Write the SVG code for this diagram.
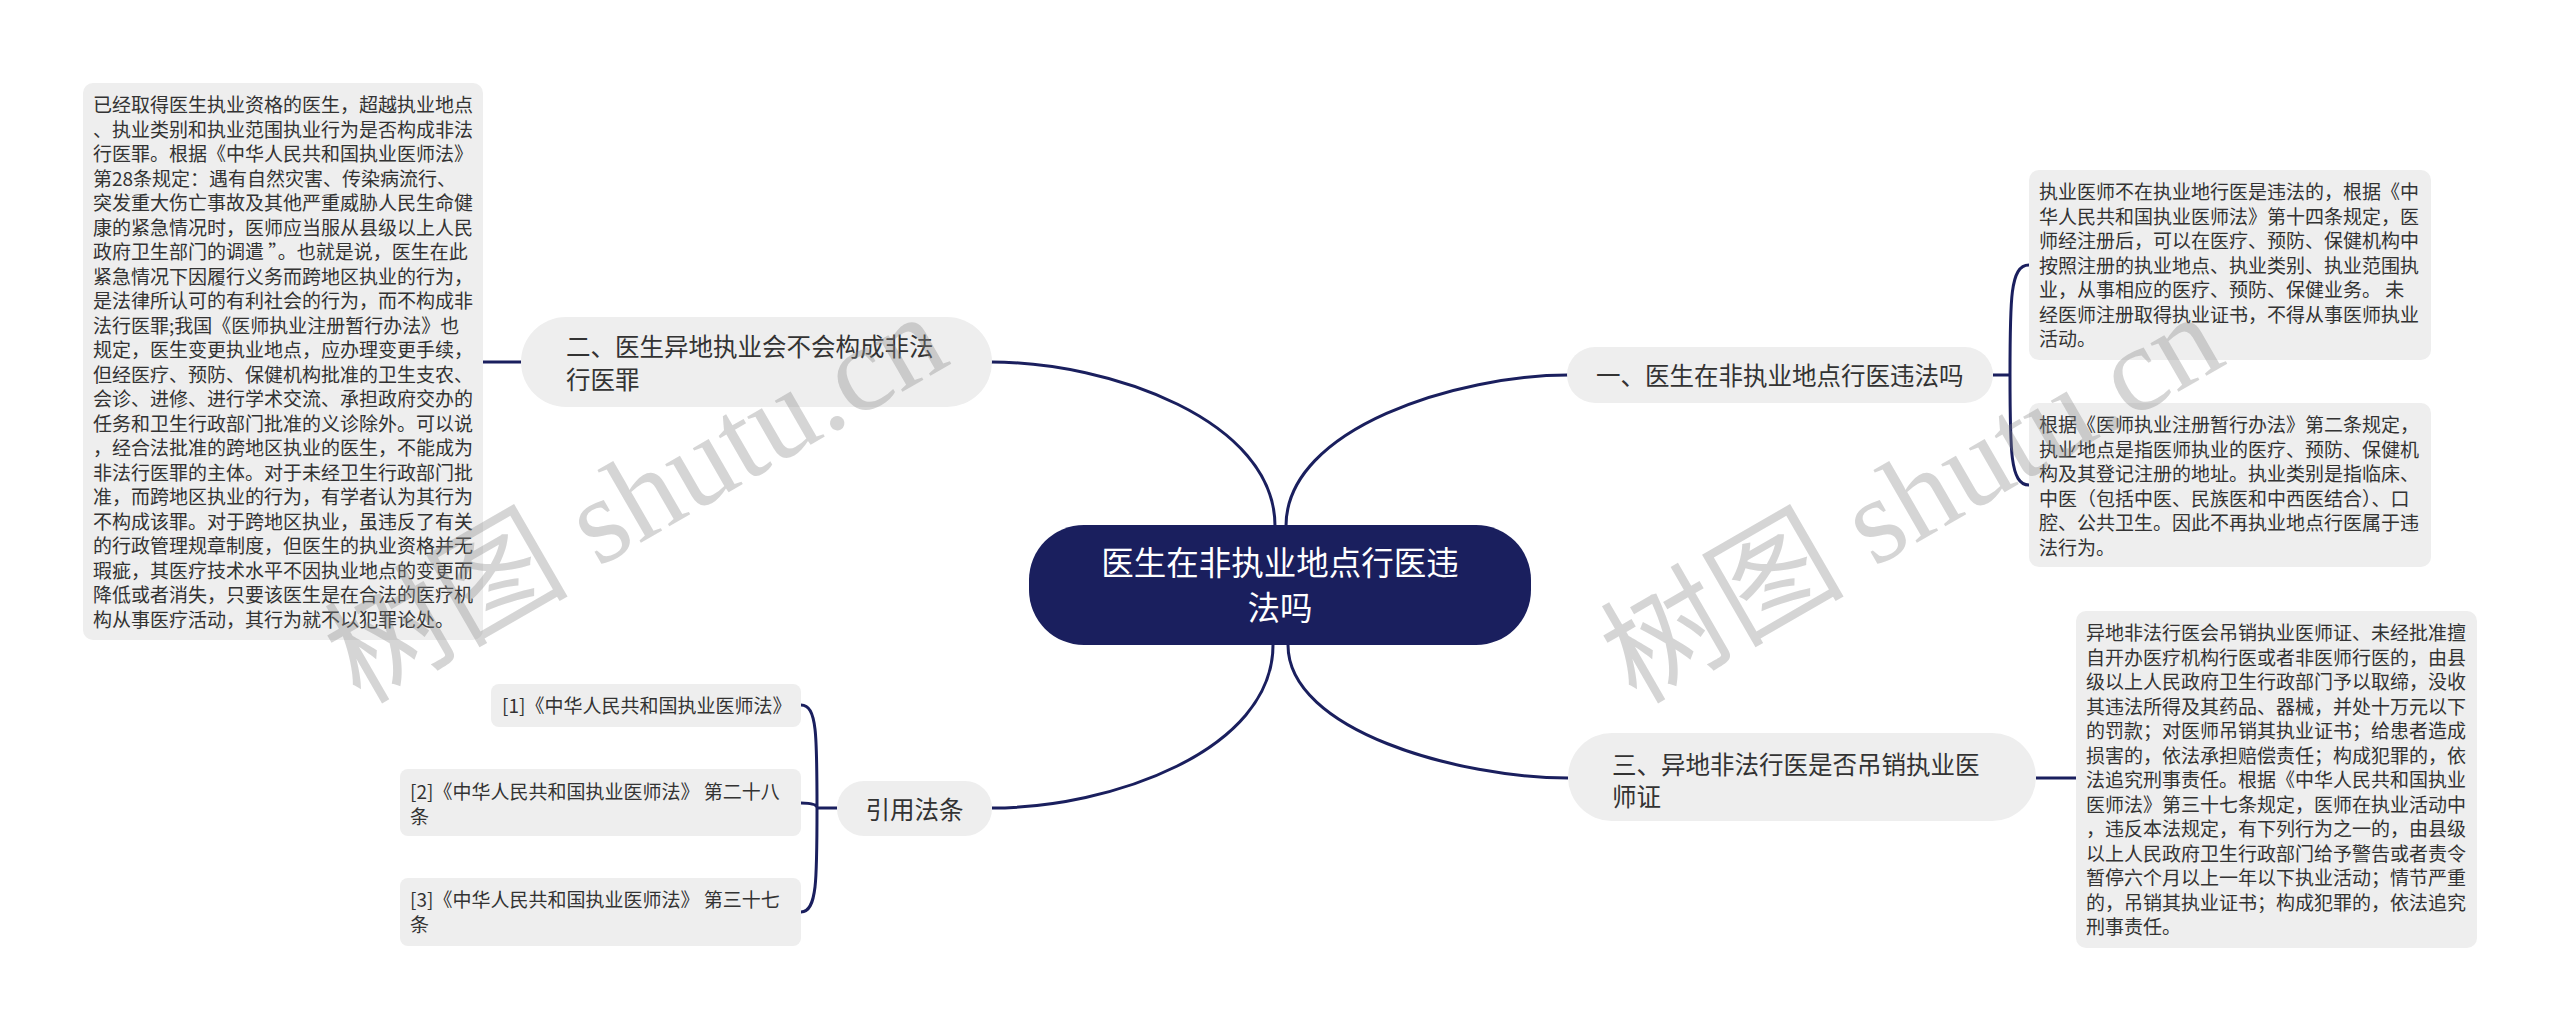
<svg xmlns="http://www.w3.org/2000/svg" width="2560" height="1031" viewBox="0 0 2560 1031">
<style>
.box{fill:#eeeeee}
.lt{font-family:"Noto Sans CJK SC","Noto Sans",sans-serif;font-size:19px;fill:#333333}
.nt{font-family:"Noto Sans CJK SC","Noto Sans",sans-serif;font-size:24.5px;fill:#333333}
.ct{font-family:"Noto Sans CJK SC","Noto Sans",sans-serif;font-size:32.5px;fill:#ffffff;text-anchor:middle}
.conn{fill:none;stroke:#1a1f5e;stroke-width:3}
.wm{font-family:"Liberation Serif","Noto Sans CJK SC",serif;font-size:122px;fill:#888888;fill-opacity:0.35}
</style>
<rect width="2560" height="1031" fill="#ffffff"/>
<g id="connectors">
<path class="conn" d="M 991 362 C 1110 362, 1275 420, 1275 526"/>
<path class="conn" d="M 1568 375 C 1460 375, 1286 427, 1286 526"/>
<path class="conn" d="M 992 808 C 1110 808, 1273 751, 1273 645"/>
<path class="conn" d="M 1568 778 C 1460 778, 1288 731, 1288 645"/>
<path class="conn" d="M 483 362 L 521 362"/>
<path class="conn" d="M 1993 375 L 2010 375 M 2010 375 C 2010 300, 2010 265, 2029 265 M 2010 375 C 2010 450, 2010 485, 2029 485"/>
<path class="conn" d="M 2036 778 L 2076 778"/>
<path class="conn" d="M 837 808 L 817 808 M 817 808 C 817 735, 817 705, 801 705 M 817 808 C 817 805, 812 803, 801 803 M 817 808 C 817 880, 817 912, 801 912"/>
</g>
<g id="center">
<rect x="1029" y="525" width="502" height="120" rx="55" fill="#1a1f5e"/>
<text class="ct"><tspan x="1280" y="575">医生在非执业地点行医违</tspan><tspan x="1280" y="620">法吗</tspan></text>
</g>
<g id="node1">
<rect class="box" x="1567" y="347" width="426" height="56" rx="28"/>
<text class="nt" x="1596" y="385">一、医生在非执业地点行医违法吗</text>
</g>
<g id="node2">
<rect class="box" x="521" y="317" width="471" height="90" rx="45"/>
<text class="nt"><tspan x="566" y="356">二、医生异地执业会不会构成非法</tspan><tspan x="566" y="389">行医罪</tspan></text>
</g>
<g id="node3">
<rect class="box" x="1568" y="733" width="468" height="88" rx="44"/>
<text class="nt"><tspan x="1612" y="774">三、异地非法行医是否吊销执业医</tspan><tspan x="1612" y="806">师证</tspan></text>
</g>
<g id="node4">
<rect class="box" x="837" y="781" width="155" height="55" rx="27"/>
<text class="nt" x="914.5" y="819" text-anchor="middle">引用法条</text>
</g>
<g id="leaf2">
<rect class="box" x="83" y="83" width="400" height="557" rx="10"/>
<text class="lt"><tspan x="93" y="112">已经取得医生执业资格的医生，超越执业地点</tspan><tspan x="93" dy="24.5">、执业类别和执业范围执业行为是否构成非法</tspan><tspan x="93" dy="24.5">行医罪。根据《中华人民共和国执业医师法》</tspan><tspan x="93" dy="24.5">第28条规定：遇有自然灾害、传染病流行、</tspan><tspan x="93" dy="24.5">突发重大伤亡事故及其他严重威胁人民生命健</tspan><tspan x="93" dy="24.5">康的紧急情况时，医师应当服从县级以上人民</tspan><tspan x="93" dy="24.5">政府卫生部门的调遣 ”。也就是说，医生在此</tspan><tspan x="93" dy="24.5">紧急情况下因履行义务而跨地区执业的行为，</tspan><tspan x="93" dy="24.5">是法律所认可的有利社会的行为，而不构成非</tspan><tspan x="93" dy="24.5">法行医罪;我国《医师执业注册暂行办法》也</tspan><tspan x="93" dy="24.5">规定，医生变更执业地点，应办理变更手续，</tspan><tspan x="93" dy="24.5">但经医疗、预防、保健机构批准的卫生支农、</tspan><tspan x="93" dy="24.5">会诊、进修、进行学术交流、承担政府交办的</tspan><tspan x="93" dy="24.5">任务和卫生行政部门批准的义诊除外。可以说</tspan><tspan x="93" dy="24.5">，经合法批准的跨地区执业的医生，不能成为</tspan><tspan x="93" dy="24.5">非法行医罪的主体。对于未经卫生行政部门批</tspan><tspan x="93" dy="24.5">准，而跨地区执业的行为，有学者认为其行为</tspan><tspan x="93" dy="24.5">不构成该罪。对于跨地区执业，虽违反了有关</tspan><tspan x="93" dy="24.5">的行政管理规章制度，但医生的执业资格并无</tspan><tspan x="93" dy="24.5">瑕疵，其医疗技术水平不因执业地点的变更而</tspan><tspan x="93" dy="24.5">降低或者消失，只要该医生是在合法的医疗机</tspan><tspan x="93" dy="24.5">构从事医疗活动，其行为就不以犯罪论处。</tspan></text>
</g>
<g id="leaf1a">
<rect class="box" x="2029" y="170" width="402" height="190" rx="10"/>
<text class="lt"><tspan x="2039" y="199">执业医师不在执业地行医是违法的，根据《中</tspan><tspan x="2039" dy="24.5">华人民共和国执业医师法》第十四条规定，医</tspan><tspan x="2039" dy="24.5">师经注册后，可以在医疗、预防、保健机构中</tspan><tspan x="2039" dy="24.5">按照注册的执业地点、执业类别、执业范围执</tspan><tspan x="2039" dy="24.5">业，从事相应的医疗、预防、保健业务。 未</tspan><tspan x="2039" dy="24.5">经医师注册取得执业证书，不得从事医师执业</tspan><tspan x="2039" dy="24.5">活动。</tspan></text>
</g>
<g id="leaf1b">
<rect class="box" x="2029" y="403" width="402" height="164" rx="10"/>
<text class="lt"><tspan x="2039" y="432">根据《医师执业注册暂行办法》第二条规定，</tspan><tspan x="2039" dy="24.5">执业地点是指医师执业的医疗、预防、保健机</tspan><tspan x="2039" dy="24.5">构及其登记注册的地址。执业类别是指临床、</tspan><tspan x="2039" dy="24.5">中医（包括中医、民族医和中西医结合）、口</tspan><tspan x="2039" dy="24.5">腔、公共卫生。因此不再执业地点行医属于违</tspan><tspan x="2039" dy="24.5">法行为。</tspan></text>
</g>
<g id="leaf3">
<rect class="box" x="2076" y="611" width="401" height="337" rx="10"/>
<text class="lt"><tspan x="2086" y="640">异地非法行医会吊销执业医师证、未经批准擅</tspan><tspan x="2086" dy="24.5">自开办医疗机构行医或者非医师行医的，由县</tspan><tspan x="2086" dy="24.5">级以上人民政府卫生行政部门予以取缔，没收</tspan><tspan x="2086" dy="24.5">其违法所得及其药品、器械，并处十万元以下</tspan><tspan x="2086" dy="24.5">的罚款；对医师吊销其执业证书；给患者造成</tspan><tspan x="2086" dy="24.5">损害的，依法承担赔偿责任；构成犯罪的，依</tspan><tspan x="2086" dy="24.5">法追究刑事责任。根据《中华人民共和国执业</tspan><tspan x="2086" dy="24.5">医师法》第三十七条规定，医师在执业活动中</tspan><tspan x="2086" dy="24.5">，违反本法规定，有下列行为之一的，由县级</tspan><tspan x="2086" dy="24.5">以上人民政府卫生行政部门给予警告或者责令</tspan><tspan x="2086" dy="24.5">暂停六个月以上一年以下执业活动；情节严重</tspan><tspan x="2086" dy="24.5">的，吊销其执业证书；构成犯罪的，依法追究</tspan><tspan x="2086" dy="24.5">刑事责任。</tspan></text>
</g>
<g id="ref1">
<rect class="box" x="491" y="684" width="310" height="43" rx="8"/>
<text class="lt" x="502" y="713">[1]《中华人民共和国执业医师法》</text>
</g>
<g id="ref2">
<rect class="box" x="400" y="769" width="401" height="67" rx="8"/>
<text class="lt"><tspan x="410" y="799">[2]《中华人民共和国执业医师法》 第二十八</tspan><tspan x="410" dy="24.5">条</tspan></text>
</g>
<g id="ref3">
<rect class="box" x="400" y="878" width="401" height="68" rx="8"/>
<text class="lt"><tspan x="410" y="907">[3]《中华人民共和国执业医师法》 第三十七</tspan><tspan x="410" dy="24.5">条</tspan></text>
</g>
<g id="watermarks">
<text class="wm" x="360" y="705" transform="rotate(-30 360 705)">树图 shutu.cn</text>
<text class="wm" x="1636" y="705" transform="rotate(-30 1636 705)">树图 shutu.cn</text>
</g>
</svg>
